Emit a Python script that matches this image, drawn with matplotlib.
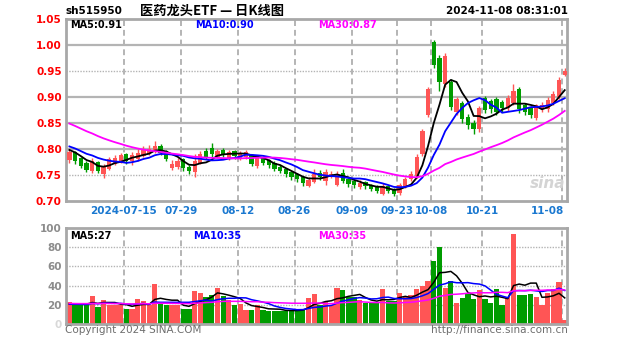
import numpy as np
import pandas as pd
import matplotlib
matplotlib.use("Agg")
import matplotlib.pyplot as plt

plt.rcParams["font.family"] = ["Noto Sans CJK SC", "DejaVu Sans"]

code = "sh515950"
title = "医药龙头ETF — 日K线图"
stamp = "2024-11-08 08:31:01"

# trading-day index of each date label
tick_idx = [10, 20, 30, 40, 50, 58, 64, 73, 87]
tick_text = ["2024-07-15", "07-29", "08-12", "08-26", "09-09",
             "09-23", "10-08", "10-21", "11-08"]

# closes before the window, only used to seed the moving averages
prior_close = [0.915, 0.920, 0.912, 0.905, 0.910, 0.900, 0.895, 0.890, 0.885,
               0.880, 0.875, 0.868, 0.860, 0.852, 0.845, 0.835, 0.828, 0.820,
               0.815, 0.810, 0.815, 0.818, 0.812, 0.808, 0.805, 0.800, 0.803,
               0.798, 0.795]
prior_vol = [24, 22, 20, 23, 21, 19, 25, 22, 20, 24, 21, 23, 19, 22, 26, 20,
             21, 24, 22, 19, 21, 20, 22, 18, 21, 20, 19, 22, 20]

opens = [0.778, 0.795, 0.782, 0.774, 0.758, 0.775, 0.752, 0.762, 0.772, 0.776,
         0.790, 0.776, 0.780, 0.786, 0.790, 0.794, 0.806, 0.797, 0.764, 0.766,
         0.780, 0.766, 0.756, 0.774, 0.797, 0.802, 0.784, 0.799, 0.783, 0.797,
         0.782, 0.785, 0.788, 0.767, 0.783, 0.778, 0.774, 0.766, 0.762, 0.756,
         0.752, 0.746, 0.728, 0.736, 0.754, 0.738, 0.746, 0.731, 0.754, 0.742,
         0.739, 0.726, 0.736, 0.731, 0.728, 0.714, 0.729, 0.723, 0.716, 0.728,
         0.742, 0.748, 0.790, 0.866, 1.005, 0.975, 0.925, 0.928, 0.872, 0.888,
         0.862, 0.850, 0.838, 0.898, 0.893, 0.896, 0.890, 0.878, 0.889, 0.915,
         0.884, 0.879, 0.860, 0.876, 0.876, 0.888, 0.900, 0.943]
highs = [0.800, 0.797, 0.784, 0.776, 0.782, 0.777, 0.772, 0.784, 0.788, 0.792,
         0.792, 0.794, 0.800, 0.806, 0.808, 0.815, 0.809, 0.799, 0.778, 0.782,
         0.782, 0.770, 0.790, 0.796, 0.801, 0.812, 0.800, 0.802, 0.798, 0.799,
         0.797, 0.798, 0.790, 0.786, 0.786, 0.780, 0.776, 0.769, 0.764, 0.758,
         0.754, 0.748, 0.746, 0.761, 0.759, 0.761, 0.758, 0.758, 0.762, 0.744,
         0.741, 0.741, 0.738, 0.733, 0.730, 0.734, 0.731, 0.725, 0.735, 0.746,
         0.758, 0.790, 0.838, 0.920, 1.010, 0.980, 0.985, 0.935, 0.900, 0.892,
         0.868, 0.855, 0.882, 0.902, 0.897, 0.900, 0.894, 0.903, 0.925, 0.920,
         0.888, 0.882, 0.887, 0.890, 0.900, 0.912, 0.938, 0.955]
lows = [0.774, 0.772, 0.764, 0.756, 0.754, 0.754, 0.745, 0.760, 0.770, 0.773,
        0.772, 0.770, 0.777, 0.784, 0.788, 0.792, 0.788, 0.776, 0.760, 0.762,
        0.758, 0.752, 0.746, 0.772, 0.780, 0.785, 0.782, 0.784, 0.779, 0.781,
        0.779, 0.781, 0.767, 0.764, 0.770, 0.764, 0.757, 0.753, 0.747, 0.741,
        0.736, 0.729, 0.726, 0.734, 0.741, 0.731, 0.744, 0.729, 0.734, 0.727,
        0.725, 0.723, 0.723, 0.719, 0.715, 0.711, 0.715, 0.710, 0.712, 0.725,
        0.738, 0.745, 0.786, 0.862, 0.955, 0.912, 0.920, 0.875, 0.866, 0.850,
        0.838, 0.828, 0.832, 0.870, 0.870, 0.866, 0.872, 0.874, 0.885, 0.870,
        0.866, 0.860, 0.855, 0.872, 0.872, 0.885, 0.896, 0.940]
closes = [0.795, 0.776, 0.768, 0.760, 0.776, 0.758, 0.768, 0.780, 0.783, 0.788,
          0.776, 0.789, 0.792, 0.798, 0.800, 0.806, 0.792, 0.780, 0.772, 0.776,
          0.764, 0.757, 0.776, 0.790, 0.784, 0.790, 0.796, 0.788, 0.795, 0.786,
          0.792, 0.794, 0.772, 0.782, 0.774, 0.770, 0.762, 0.758, 0.752, 0.747,
          0.742, 0.735, 0.741, 0.752, 0.746, 0.755, 0.752, 0.750, 0.738, 0.733,
          0.730, 0.735, 0.728, 0.724, 0.720, 0.729, 0.720, 0.714, 0.730, 0.742,
          0.752, 0.785, 0.835, 0.916, 0.962, 0.928, 0.978, 0.880, 0.896, 0.858,
          0.846, 0.838, 0.878, 0.875, 0.876, 0.872, 0.878, 0.898, 0.912, 0.876,
          0.872, 0.866, 0.884, 0.884, 0.895, 0.905, 0.932, 0.950]
volume = [23, 20, 20, 20, 29, 18, 25, 20, 20, 20,
          16, 16, 26, 24, 20, 42, 22, 20, 20, 20,
          16, 16, 34, 32, 28, 30, 38, 29, 25, 20,
          21, 15, 15, 20, 15, 14, 14, 14, 14, 14,
          14, 16, 27, 31, 20, 23, 20, 38, 35, 28,
          28, 25, 22, 22, 22, 36, 24, 24, 32, 28,
          30, 36, 40, 45, 66, 80, 38, 45, 22, 27,
          32, 26, 35, 26, 22, 36, 20, 28, 94, 30,
          30, 31, 28, 20, 32, 36, 44, 4]

RED = "#ff5555"
GREEN = "#009c00"
GRID = "#b4b4b4"
MA_COLORS = {5: "black", 10: "#0000ff", 30: "#ff00ff"}
W, H = 627, 342


def moving(prior, vals, n):
    s = pd.Series(list(prior) + list(vals), dtype=float)
    return s.rolling(n).mean().to_numpy()[len(prior):]


def box(left, top, right, bottom):
    return [left / W, 1 - bottom / H, (right - left) / W, (bottom - top) / H]


def px(xp, yp):
    return xp / W, 1 - yp / H


o, h, l, c = (np.array(a) for a in (opens, highs, lows, closes))
x = np.arange(len(c))
colors = np.where(c >= o, RED, GREEN)

fig = plt.figure(figsize=(W / 100, H / 100), dpi=100)
ax = fig.add_axes(box(66, 19, 567, 201))
av = fig.add_axes(box(66, 228, 567, 324))

for a in (ax, av):
    a.set_xlim(-0.6, 87.4)
    a.set_xticks([])
    for s in a.spines.values():
        s.set_color("#a8a8a8")
        s.set_linewidth(2)
    for i in tick_idx:
        a.axvline(i - 0.45, color=GRID, lw=1.4, ls=(0, (3, 2)), zorder=0)

# price panel
ax.set_ylim(0.70, 1.05)
for lv in [0.75, 0.80, 0.85, 0.90, 0.95, 1.00]:
    dotted = lv in (0.75, 0.95)
    ax.axhline(lv, color=GRID, lw=1.0 if dotted else 1.6,
               ls=(0, (1, 1)) if dotted else "-", zorder=0)
ax.vlines(x, l, h, colors=colors, lw=1, zorder=2)
body = np.maximum(np.abs(c - o), 0.002)
ax.bar(x, body, bottom=np.minimum(o, c), width=0.75, color=colors, zorder=3)

ma_price = {n: moving(prior_close, closes, n) for n in (5, 10, 30)}
for n, vals in ma_price.items():
    ax.plot(x, vals, color=MA_COLORS[n], lw=1.3, zorder=4)

ax.set_yticks([0.70, 0.75, 0.80, 0.85, 0.90, 0.95, 1.00, 1.05])
ax.set_yticklabels([f"{v:.2f}" for v in ax.get_yticks()],
                   color="red", fontsize=7.5, fontweight="bold",
                   family="DejaVu Sans")
ax.tick_params(axis="y", length=0, pad=3)

for xp, n in [(70, 5), (195, 10), (318, 30)]:
    fig.text(*px(xp, 25), f"MA{n}:{ma_price[n][-1]:.2f}", color=MA_COLORS[n],
             fontsize=7, fontweight="bold", family="DejaVu Sans", va="center")

fig.text(*px(548, 184), "sina", color="#d4d4d4", fontsize=11,
         style="italic", fontweight="bold", ha="center", va="center",
         family="DejaVu Sans")

# volume panel
av.set_ylim(0, 100)
for lv in [20, 40, 60, 80]:
    av.axhline(lv, color=GRID, lw=1.0, ls=(0, (1, 1)), zorder=0)
av.bar(x, volume, width=0.92, color=colors, zorder=2)
ma_vol = {n: moving(prior_vol, volume, n) for n in (5, 10, 30)}
for n, vals in ma_vol.items():
    av.plot(x, vals, color=MA_COLORS[n], lw=1.1, zorder=3)
av.set_yticks([0, 20, 40, 60, 80, 100])
av.set_yticklabels(["0", "20", "40", "60", "80", "100"], color="#8c8c8c",
                   fontsize=7.5, fontweight="bold", family="DejaVu Sans")
av.get_yticklabels()[0].set_color("#d8d8d8")
av.tick_params(axis="y", length=0, pad=3)

for xp, n in [(70, 5), (193, 10), (318, 30)]:
    fig.text(*px(xp, 236), f"MA{n}:{ma_vol[n][-1]:.0f}", color=MA_COLORS[n],
             fontsize=7, fontweight="bold", family="DejaVu Sans", va="center")

# date labels under the price panel
x0, x1 = ax.get_xlim()
for i, t in zip(tick_idx, tick_text):
    xp = 66 + (i - 0.45 - x0) / (x1 - x0) * 501
    ha = "center"
    if i == tick_idx[-1]:
        xp, ha = 564, "right"
    fig.text(*px(xp, 211), t, color="#1a78d0", fontsize=7.5,
             fontweight="bold", ha=ha, va="center", family="DejaVu Sans")

# header and footer
fig.text(*px(66, 11), code, fontsize=7.5, fontweight="bold", va="center",
         family="DejaVu Sans")
fig.text(*px(212, 11), title, fontsize=9.5, fontweight="bold",
         ha="center", va="center")
fig.text(*px(568, 11), stamp, fontsize=7.5, fontweight="bold",
         ha="right", va="center", family="DejaVu Sans")
fig.text(*px(65, 330), "Copyright 2024 SINA.COM", color="#6e6e6e",
         fontsize=7.5, va="center", family="DejaVu Sans")
fig.text(*px(568, 330), "http://finance.sina.com.cn", color="#6e6e6e",
         fontsize=7.5, ha="right", va="center", family="DejaVu Sans")

fig.savefig("out.png", dpi=100)
